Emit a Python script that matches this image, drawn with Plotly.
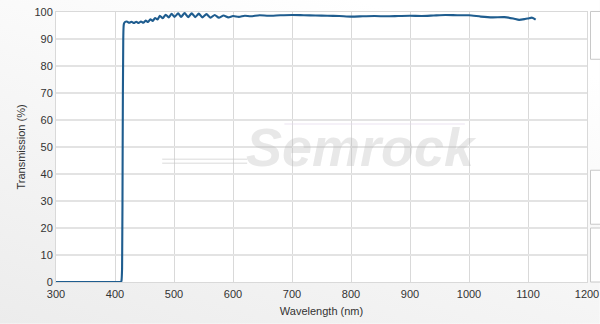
import base64
import plotly.graph_objects as go

# Data
wavelength_nm = [300, 405, 410, 411, 412, 413, 414, 415, 417, 420,
                 424, 428, 432, 436, 440, 444, 448, 452, 456, 460,
                 464, 468, 472, 476, 481, 486, 491, 496, 501, 507,
                 512, 518, 524, 530, 536, 542, 548, 555, 562, 569,
                 576, 584, 592, 600, 610, 620, 630, 645, 660, 680,
                 700, 720, 740, 760, 780, 800, 820, 840, 860, 880,
                 900, 920, 940, 960, 980, 1000, 1020, 1040, 1060, 1075,
                 1085, 1095, 1100, 1107, 1113]
transmission_pct = [0, 0, 0, 0.5, 5, 50, 90, 95.5, 96.3, 96.5,
                    96.0, 96.4, 95.9, 96.4, 95.9, 96.5, 96.0, 96.8, 96.3, 97.3,
                    96.7, 97.8, 97.2, 98.6, 97.7, 99.0, 98.0, 99.3, 98.2, 99.5,
                    98.2, 99.6, 98.1, 99.5, 98.1, 99.4, 98.0, 99.2, 97.9, 98.9,
                    97.9, 98.7, 98.0, 98.5, 98.2, 98.6, 98.4, 98.8, 98.6, 98.8,
                    98.9, 98.8, 98.7, 98.6, 98.5, 98.3, 98.4, 98.5, 98.4, 98.5,
                    98.6, 98.5, 98.7, 98.9, 98.8, 98.8, 98.3, 98.0, 98.1, 97.6,
                    97.1, 97.4, 97.6, 97.9, 97.2]

x_ticks = [300, 400, 500, 600, 700, 800, 900, 1000, 1100, 1200]
y_ticks = [0, 10, 20, 30, 40, 50, 60, 70, 80, 90, 100]

fig = go.Figure()
fig.add_trace(go.Scatter(
    x=wavelength_nm, y=transmission_pct, mode="lines",
    line=dict(color="#1f5d8f", width=2.1, shape="spline", smoothing=0.6),
    hoverinfo="x+y", showlegend=False,
))

# background gradient (SVG data URI)
svg = ('<svg xmlns="http://www.w3.org/2000/svg" width="600" height="324">'
       '<defs><linearGradient id="g" x1="0" y1="1" x2="0.6" y2="0">'
       '<stop offset="0" stop-color="#ececec"/><stop offset="1" stop-color="#ffffff"/>'
       '</linearGradient></defs><rect width="600" height="324" fill="url(#g)"/></svg>')
uri = "data:image/svg+xml;base64," + base64.b64encode(svg.encode()).decode()

gray = "#d9d9d9"
axis_font = dict(family="Liberation Sans, Arial, sans-serif", size=11, color="#333333")

fig.update_layout(
    width=600, height=324,
    margin=dict(l=56, r=13, t=12, b=42, autoexpand=False),
    paper_bgcolor="#fbfbfb", plot_bgcolor="white",
    font=axis_font,
    images=[dict(source=uri, xref="paper", yref="paper", x=-0.106, y=1.045,
                 sizex=1.13, sizey=1.2, sizing="stretch", layer="below",
                 xanchor="left", yanchor="top")],
    xaxis=dict(range=[300, 1200], tickvals=x_ticks, showgrid=True, gridcolor=gray,
               gridwidth=1, zeroline=False, showline=True, linecolor=gray, mirror=True,
               ticks="", tickfont=axis_font, automargin=False, ticklabelstandoff=2,
               title=dict(text="Wavelength (nm)", font=axis_font, standoff=8)),
    yaxis=dict(range=[0, 100], tickvals=y_ticks, showgrid=True, gridcolor="#e3e3e3",
               gridwidth=1.5, zeroline=False, showline=True, linecolor=gray, mirror=True,
               ticks="", tickfont=axis_font, automargin=False,
               title=dict(text="Transmission (%)", font=axis_font, standoff=6)),
    shapes=[
        dict(type="rect", xref="paper", yref="paper", x0=0, x1=1, y0=0, y1=1,
             fillcolor="white", line=dict(width=0), layer="below"),
        dict(type="rect", xref="paper", yref="paper", x0=1.0066, x1=1.06, y0=0.825, y1=1.002,
             fillcolor="white", line=dict(color="#c8c8c8", width=1)),
        dict(type="rect", xref="paper", yref="paper", x0=1.0066, x1=1.06, y0=0.214, y1=0.414,
             fillcolor="white", line=dict(color="#c8c8c8", width=1)),
        dict(type="rect", xref="paper", yref="paper", x0=1.0066, x1=1.06, y0=0.0, y1=0.200,
             fillcolor="white", line=dict(color="#c8c8c8", width=1)),
        dict(type="line", xref="paper", yref="paper", x0=0.2, x1=0.36, y0=0.455, y1=0.455,
             line=dict(color="rgba(200,200,200,0.45)", width=1.5)),
        dict(type="line", xref="paper", yref="paper", x0=0.2, x1=0.36, y0=0.44, y1=0.44,
             line=dict(color="rgba(200,200,200,0.45)", width=1.5)),
        dict(type="line", xref="paper", yref="paper", x0=0.43, x1=0.77, y0=0.585, y1=0.585,
             line=dict(color="rgba(225,215,235,0.35)", width=2)),
    ],
    annotations=[dict(text="<b><i>Semrock</i></b>", xref="paper", yref="paper",
                      x=0.575, y=0.5, showarrow=False,
                      font=dict(family="Liberation Sans, Arial, sans-serif", size=54,
                                color="rgba(185,185,185,0.32)"))],
)

fig.write_html("out.html")
